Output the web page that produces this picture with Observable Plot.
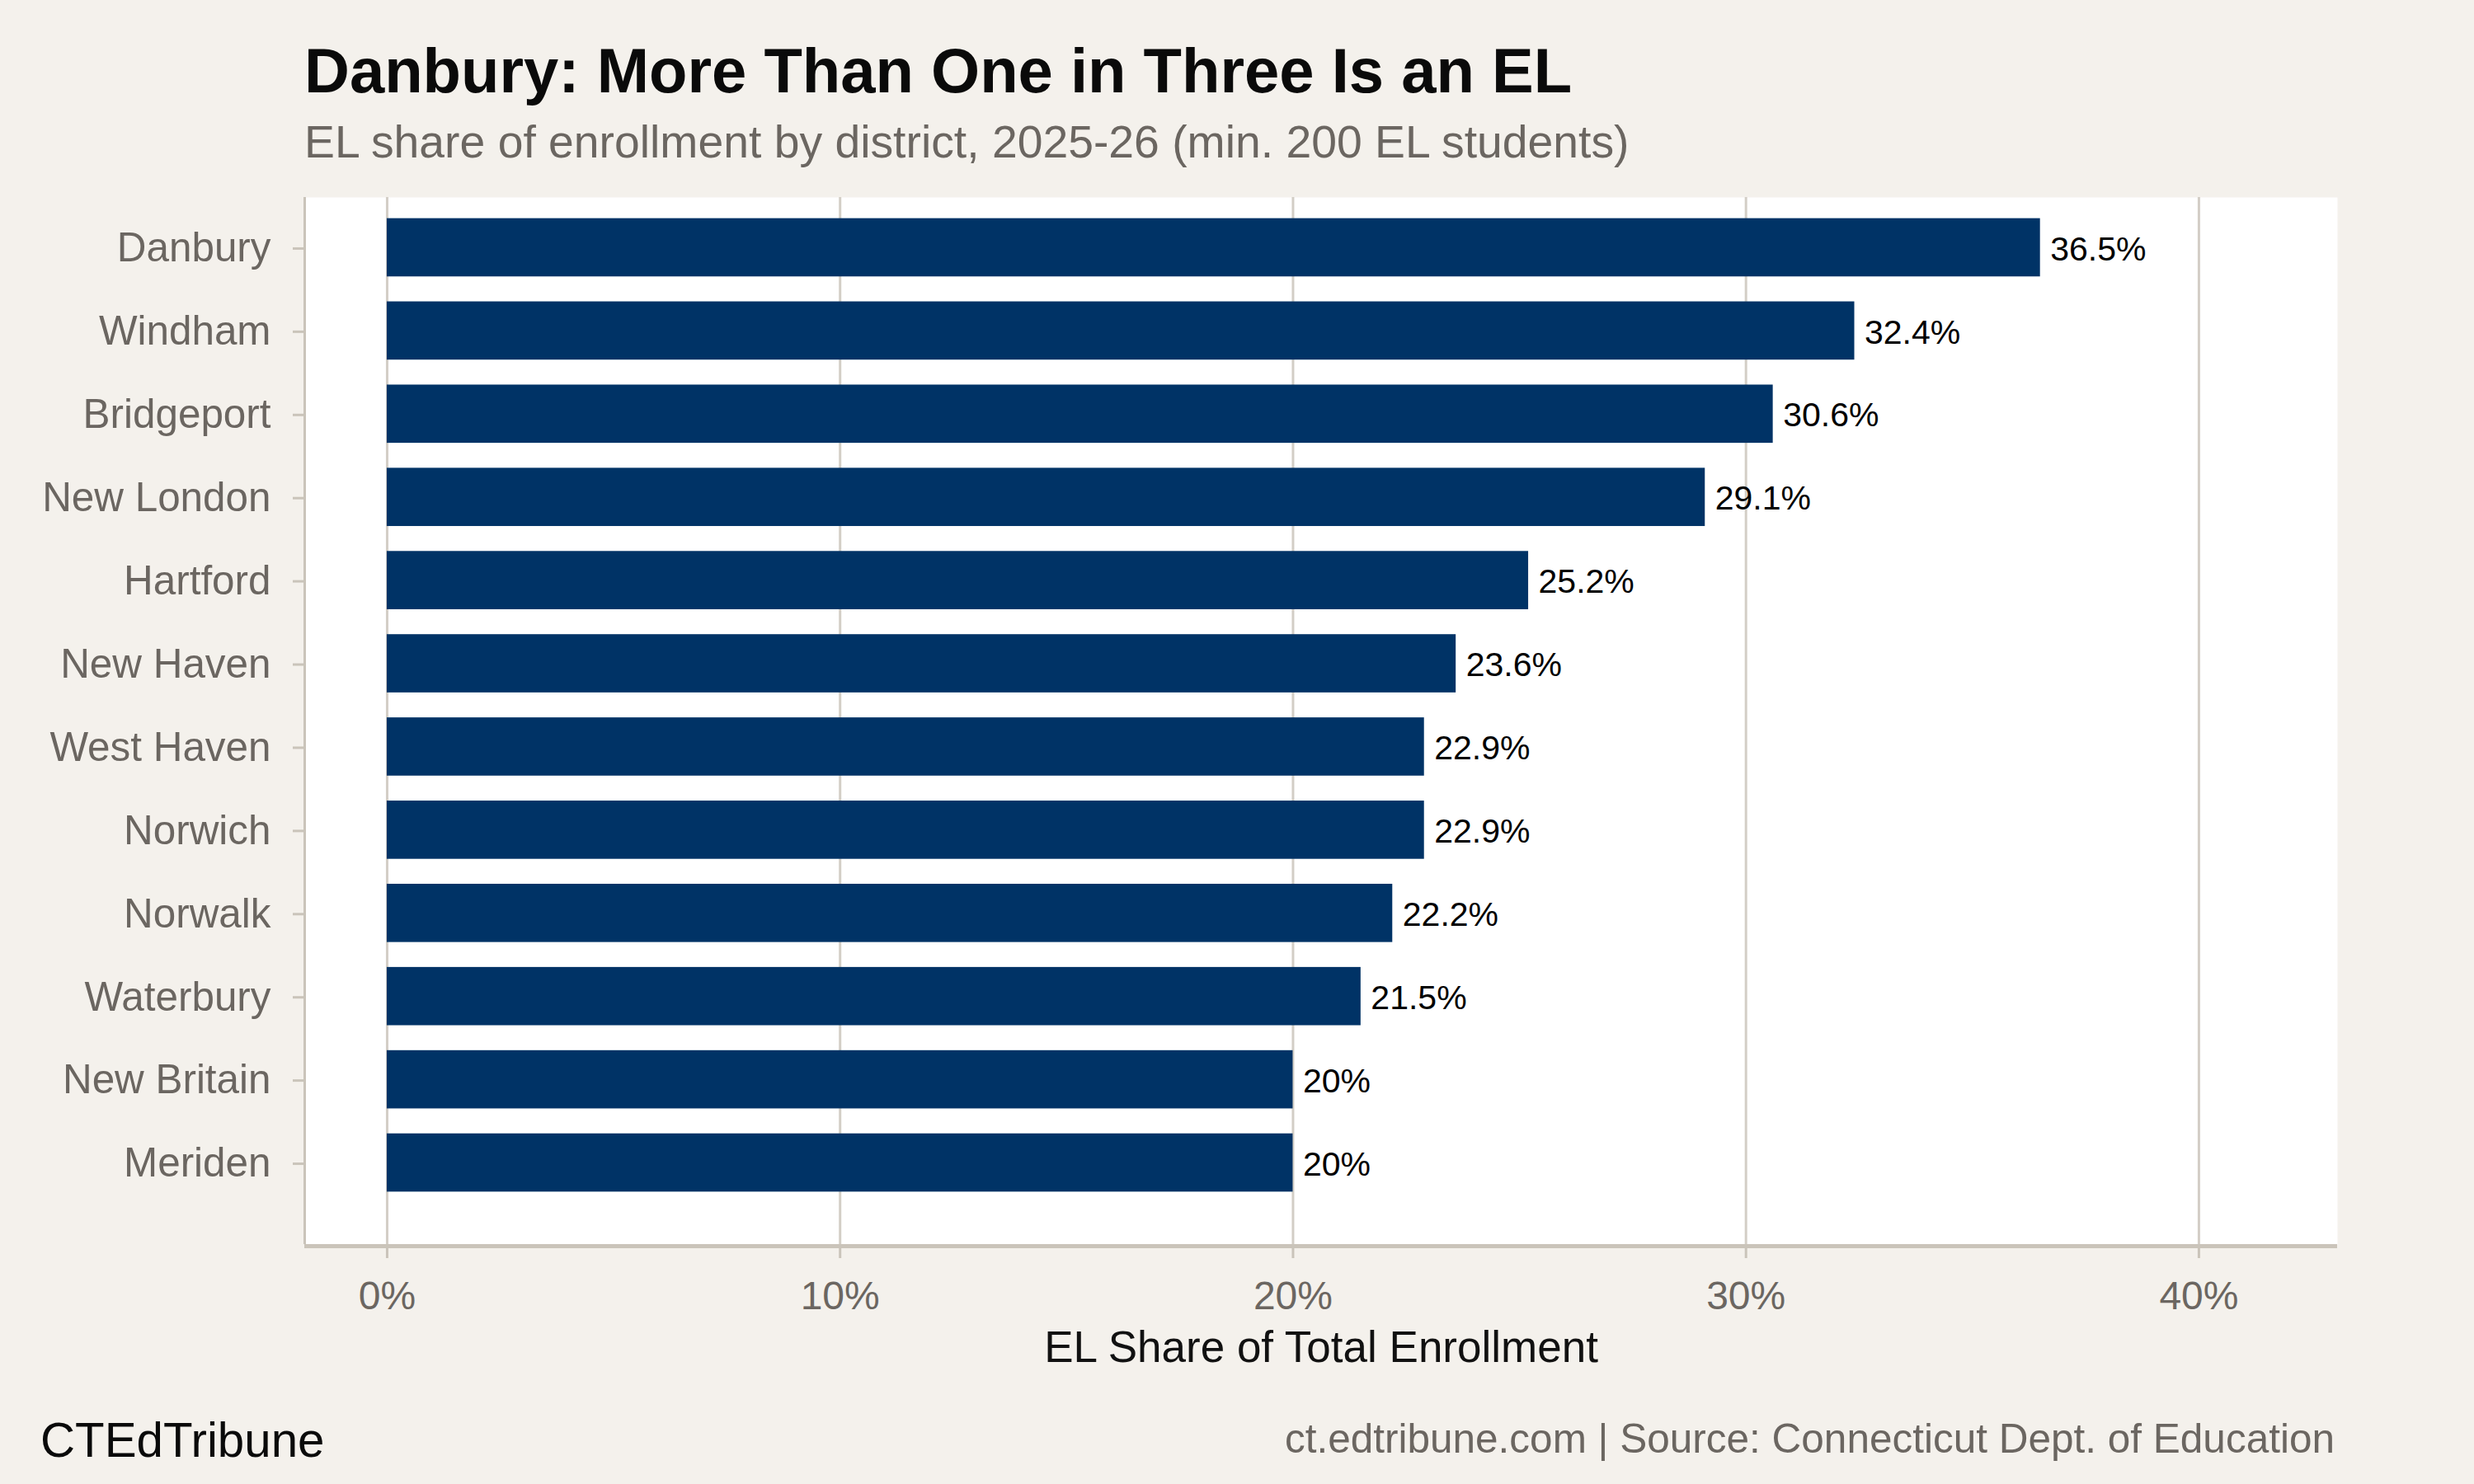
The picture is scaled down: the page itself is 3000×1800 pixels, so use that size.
<!DOCTYPE html>
<html>
<head>
<meta charset="utf-8">
<script src="https://cdn.jsdelivr.net/npm/d3@7"></script>
<script src="https://cdn.jsdelivr.net/npm/@observablehq/plot@0.6"></script>
<style>
  html, body { margin: 0; padding: 0; background: #f4f1ec; }
  #page { position: relative; width: 3000px; height: 1800px; background: #f4f1ec; overflow: hidden;
          font-family: "Liberation Sans", Arial, Helvetica, sans-serif; }
  .t { position: absolute; white-space: nowrap; line-height: 1; margin: 0; }
  #title { left: 369px; top: 48px; font-size: 76px; font-weight: bold; color: #0a0a0a; }
  #subtitle { left: 369px; top: 145px; font-size: 55.3px; color: #6b6661; }
  #chart { position: absolute; left: 0; top: 225px; }
  #capLeft { left: 49px; top: 1718px; font-size: 58.3px; color: #0a0a0a; }
  #capRight { right: 169px; top: 1720px; font-size: 49.5px; color: #6b6661; }
</style>
</head>
<body>
<div id="page">
  <div class="t" id="title">Danbury: More Than One in Three Is an EL</div>
  <div class="t" id="subtitle">EL share of enrollment by district, 2025-26 (min. 200 EL students)</div>
  <div id="chart"></div>
  <div class="t" id="capLeft">CTEdTribune</div>
  <div class="t" id="capRight">ct.edtribune.com | Source: Connecticut Dept. of Education</div>
</div>
<script>
// ---- data ----
const districts = ["Danbury", "Windham", "Bridgeport", "New London", "Hartford", "New Haven",
                   "West Haven", "Norwich", "Norwalk", "Waterbury", "New Britain", "Meriden"];
const shares = [36.5, 32.4, 30.6, 29.1, 25.2, 23.6, 22.9, 22.9, 22.2, 21.5, 20.0, 20.0];
const shareLabels = ["36.5%", "32.4%", "30.6%", "29.1%", "25.2%", "23.6%",
                     "22.9%", "22.9%", "22.2%", "21.5%", "20%", "20%"];
const xTicks = [0, 10, 20, 30, 40];
const xTitle = "EL Share of Total Enrollment";

const rows = districts.map((d, i) => ({district: d, value: shares[i], label: shareLabels[i]}));

// ---- layout / style ----
const W = 3000, H = 1460;
const mL = 369, mR = 166, mT = 14, mB = 176;
const xDomain = [-1.82, 43.06];
const gray = "#6b6661";
const gridCol = "#d3cec6";
const axisCol = "#cac4ba";
const barCol = "#003366";

const chart = Plot.plot({
  width: W, height: H,
  marginLeft: mL, marginRight: mR, marginTop: mT, marginBottom: mB,
  style: {background: "transparent", fontFamily: "'Liberation Sans', Arial, Helvetica, sans-serif", overflow: "visible"},
  x: {domain: xDomain},
  y: {domain: districts, range: [24.5, 1235.5], paddingInner: 0.3, paddingOuter: 0.15, round: false},
  marks: [
    Plot.frame({fill: "white", stroke: "none"}),
    Plot.gridX(xTicks, {stroke: gridCol, strokeWidth: 3, strokeOpacity: 1}),
    Plot.ruleX([xDomain[0]], {stroke: axisCol, strokeWidth: 3}),
    Plot.barX(rows, {x: "value", y: "district", fill: barCol}),
    Plot.text(rows, {x: "value", y: "district", text: "label", textAnchor: "start",
                     dx: 12, dy: 2, fontSize: 41, fill: "#000"}),
    Plot.axisY({tickSize: 14, tickPadding: 27, fontSize: 49.4, fill: gray, stroke: axisCol,
                strokeWidth: 3, label: null, dy: 1}),
    Plot.axisX(xTicks, {tickSize: 17, tickPadding: 27, fontSize: 48, fill: gray, stroke: axisCol,
                        strokeWidth: 3, tickFormat: d => d + "%", label: null}),
    Plot.text([xTitle], {frameAnchor: "bottom", lineAnchor: "bottom", dy: 142,
                         fontSize: 53, fill: "#111", text: d => d})
  ]
});

// bottom axis line along the panel edge, using the plot's x scale
const xs = chart.scale("x");
d3.select(chart).append("line")
  .attr("x1", xs.apply(xDomain[0])).attr("x2", xs.apply(xDomain[1]))
  .attr("y1", H - mB + 2.5).attr("y2", H - mB + 2.5)
  .attr("stroke", axisCol).attr("stroke-width", 5);

document.getElementById("chart").appendChild(chart);
</script>
</body>
</html>
